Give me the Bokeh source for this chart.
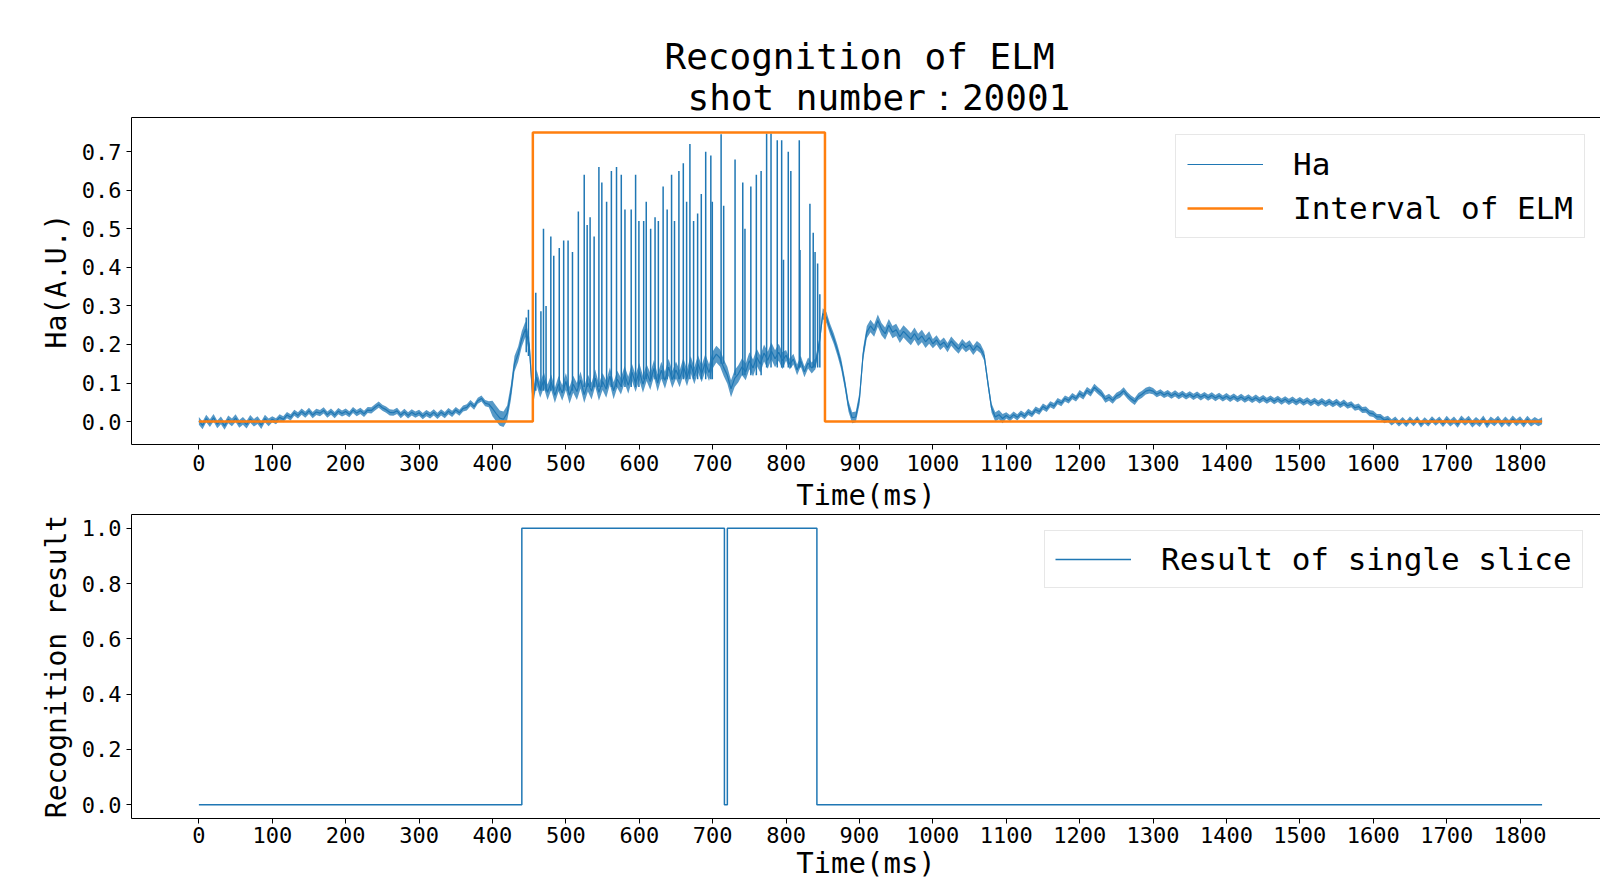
import numpy as np
from bokeh.plotting import figure
from bokeh.layouts import column
from bokeh.models import (Range1d, FixedTicker, PrintfTickFormatter, LinearAxis,
                          Title, Legend, LegendItem)
from bokeh.embed import file_html
from bokeh.resources import INLINE

FONT = "DejaVu Sans Mono"
BLUE = "#1f77b4"
ORANGE = "#ff7f0e"

# ---------------- data ----------------
title_line1 = "Recognition of ELM"
title_line2 = "shot number：20001"
x_ticks = [0, 100, 200, 300, 400, 500, 600, 700, 800, 900, 1000, 1100, 1200,
           1300, 1400, 1500, 1600, 1700, 1800]
ha_ticks = [0.0, 0.1, 0.2, 0.3, 0.4, 0.5, 0.6, 0.7]
res_ticks = [0.0, 0.2, 0.4, 0.6, 0.8, 1.0]

# Ha base trace, sampled every 5 ms from 0 to 1830 ms
ha_step_ms = 5
ha_base = [
    0.002, -0.010, 0.008, -0.004, 0.010, -0.007, 0.003, -0.011, 0.006, -0.002,
    0.009, -0.006, 0.002, -0.008, 0.007, -0.003, 0.004, -0.009, 0.008, -0.002,
    0.006, 0.001, 0.011, 0.006, 0.017, 0.011, 0.023, 0.016, 0.026, 0.018,
    0.028, 0.017, 0.025, 0.022, 0.029, 0.018, 0.026, 0.017, 0.027, 0.021,
    0.026, 0.019, 0.030, 0.022, 0.028, 0.020, 0.030, 0.029, 0.037, 0.044,
    0.036, 0.031, 0.024, 0.023, 0.028, 0.017, 0.025, 0.016, 0.024, 0.018,
    0.023, 0.014, 0.022, 0.016, 0.024, 0.015, 0.024, 0.017, 0.027, 0.020,
    0.030, 0.023, 0.034, 0.037, 0.048, 0.039, 0.054, 0.060, 0.048, 0.045,
    0.034, 0.021, 0.009, 0.006, 0.022, 0.075, 0.150, 0.175, 0.215, 0.240,
    0.200, 0.060, 0.115, 0.082, 0.108, 0.076, 0.102, 0.068, 0.098, 0.074,
    0.104, 0.068, 0.097, 0.078, 0.108, 0.070, 0.100, 0.079, 0.113, 0.076,
    0.104, 0.084, 0.118, 0.080, 0.110, 0.092, 0.122, 0.094, 0.128, 0.099,
    0.130, 0.097, 0.127, 0.104, 0.138, 0.100, 0.133, 0.107, 0.141, 0.109,
    0.134, 0.111, 0.143, 0.114, 0.148, 0.119, 0.150, 0.124, 0.153, 0.127,
    0.160, 0.175, 0.165, 0.140, 0.120, 0.085, 0.112, 0.124, 0.142, 0.129,
    0.158, 0.139, 0.167, 0.149, 0.178, 0.159, 0.183, 0.163, 0.180, 0.158,
    0.172, 0.149, 0.162, 0.134, 0.157, 0.129, 0.152, 0.139, 0.150, 0.200,
    0.280, 0.270, 0.240, 0.215, 0.185, 0.150, 0.100, 0.040, 0.010, 0.012,
    0.060, 0.175, 0.232, 0.248, 0.236, 0.262, 0.240, 0.228, 0.250, 0.232,
    0.238, 0.220, 0.234, 0.224, 0.214, 0.228, 0.212, 0.222, 0.207, 0.218,
    0.202, 0.212, 0.198, 0.206, 0.192, 0.209, 0.198, 0.188, 0.202, 0.192,
    0.199, 0.185, 0.197, 0.189, 0.170, 0.100, 0.035, 0.012, 0.018, 0.008,
    0.016, 0.009, 0.018, 0.011, 0.021, 0.014, 0.025, 0.019, 0.031, 0.026,
    0.039, 0.033, 0.045, 0.040, 0.053, 0.048, 0.060, 0.055, 0.066, 0.060,
    0.073, 0.066, 0.081, 0.074, 0.089, 0.080, 0.072, 0.058, 0.063, 0.055,
    0.066, 0.071, 0.080, 0.068, 0.059, 0.052, 0.065, 0.071, 0.079, 0.082,
    0.079, 0.071, 0.076, 0.069, 0.074, 0.067, 0.073, 0.066, 0.072, 0.065,
    0.071, 0.064, 0.070, 0.063, 0.069, 0.062, 0.068, 0.061, 0.067, 0.060,
    0.066, 0.059, 0.065, 0.058, 0.064, 0.057, 0.063, 0.056, 0.062, 0.055,
    0.061, 0.054, 0.060, 0.053, 0.059, 0.052, 0.058, 0.051, 0.057, 0.050,
    0.056, 0.049, 0.055, 0.048, 0.054, 0.047, 0.053, 0.046, 0.052, 0.045,
    0.051, 0.043, 0.049, 0.041, 0.045, 0.036, 0.039, 0.030, 0.031, 0.022,
    0.020, 0.012, 0.012, 0.004, 0.007, -0.002, 0.005, -0.005, 0.004, -0.006,
    0.005, -0.004, 0.006, -0.007, 0.003, -0.005, 0.006, -0.003, 0.005, -0.006,
    0.006, -0.004, 0.004, -0.007, 0.007, -0.002, 0.006, -0.006, 0.003, -0.005,
    0.007, -0.008, 0.004, -0.003, 0.006, -0.006, 0.004, -0.005, 0.007, -0.003,
    0.005, -0.006, 0.006, -0.004, 0.003, -0.003, 0.002,
]
# half-width of the noise band of the Ha trace, per 100 ms (0-100, 100-200, ...)
ha_noise = [0.010, 0.008, 0.008, 0.008, 0.020, 0.022, 0.022, 0.022, 0.014,
            0.016, 0.012, 0.008, 0.009, 0.008, 0.008, 0.008, 0.008, 0.009,
            0.009]

# ELM spikes on the Ha trace: time (ms), peak, foot
spike_t = [446, 449, 459, 466, 469.5, 473, 479.5, 483.5, 491, 497, 503, 509,
           517, 525, 529, 533, 538.5, 545, 549, 555.5, 562, 569, 575.5, 580.5,
           589, 595, 599.5, 606, 609.5, 615.5, 621.5, 626, 632.5, 638, 644,
           648, 654, 660, 664.5, 669, 674, 679.5, 684.5, 690.5, 697.5, 699.5,
           711.5, 715, 730.5, 741, 744, 752, 759.5, 766, 773.5, 779.5, 788,
           794, 796.5, 803, 806.5, 818, 819, 832.5, 837, 839.5, 843, 846]
spike_peak = [0.27, 0.29, 0.334, 0.286, 0.50, 0.30, 0.48, 0.43, 0.45, 0.47,
              0.47, 0.44, 0.545, 0.64, 0.51, 0.53, 0.48, 0.66, 0.62, 0.57,
              0.65, 0.66, 0.64, 0.55, 0.55, 0.64, 0.52, 0.52, 0.57, 0.50,
              0.53, 0.52, 0.61, 0.55, 0.64, 0.52, 0.65, 0.67, 0.57, 0.72,
              0.52, 0.54, 0.59, 0.70, 0.69, 0.57, 0.745, 0.56, 0.68, 0.62,
              0.50, 0.61, 0.64, 0.65, 0.747, 0.747, 0.73, 0.73, 0.42, 0.70,
              0.65, 0.73, 0.445, 0.565, 0.49, 0.44, 0.41, 0.33]
spike_foot = [0.18, 0.17] + [0.08] * 10 + [0.09] * 15 + [0.11] * 19 + \
             [0.15] * 2 + [0.12] * 6 + [0.14] * 14

# Labelled ELM interval (step)
elm_t = [0, 455, 455, 853, 853, 1830]
elm_v = [0.0, 0.0, 0.75, 0.75, 0.0, 0.0]

# Recognition result of single slice (step)
res_t = [0, 440, 440, 716, 716, 720, 720, 842, 842, 1830]
res_v = [0, 0, 1, 1, 0, 0, 1, 1, 0, 0]

ha_t = np.arange(len(ha_base)) * ha_step_ms
ha_arr = np.array(ha_base)
noise_per_sample = np.repeat(ha_noise, 100 // ha_step_ms)[:len(ha_base)]
ha_lo = ha_arr - noise_per_sample
ha_hi = ha_arr + noise_per_sample


def style_axis(ax, label_size="28px"):
    ax.axis_line_color = "black"
    ax.axis_line_width = 1
    ax.major_tick_line_color = "black"
    ax.major_tick_out = 5
    ax.major_tick_in = 0
    ax.minor_tick_line_color = None
    ax.major_label_text_font = FONT
    ax.major_label_text_font_size = "22px"
    ax.major_label_text_color = "black"
    ax.major_label_standoff = 5
    ax.axis_label_text_font = FONT
    ax.axis_label_text_font_size = label_size
    ax.axis_label_text_font_style = "normal"
    ax.axis_label_text_color = "black"
    ax.axis_label_standoff = 6


def spine_top(p):
    ax = LinearAxis(ticker=FixedTicker(ticks=[]), axis_line_color="black",
                    major_tick_line_color=None, minor_tick_line_color=None,
                    major_label_text_font_size="0px")
    p.add_layout(ax, "above")


x_range = Range1d(-91.8, 1909.6)

# ---------------- top panel ----------------
p1 = figure(width=1600, height=514, x_range=x_range,
            y_range=Range1d(-0.0594, 0.7887), output_backend="svg",
            toolbar_location=None, title=None,
            min_border_left=131, min_border_right=0, min_border_top=117,
            min_border_bottom=66)
p1.outline_line_color = None
p1.xgrid.grid_line_color = None
p1.ygrid.grid_line_color = None

p1.varea(x=ha_t, y1=ha_lo, y2=ha_hi, fill_color=BLUE, fill_alpha=0.75)
ha_line = p1.line(ha_t, ha_base, line_color=BLUE, line_width=1.2)
p1.segment(x0=spike_t, y0=spike_foot, x1=spike_t, y1=spike_peak,
           line_color=BLUE, line_width=1.5)
elm_line = p1.line(elm_t, elm_v, line_color=ORANGE, line_width=2.5)

p1.xaxis.ticker = FixedTicker(ticks=x_ticks)
p1.yaxis.ticker = FixedTicker(ticks=ha_ticks)
p1.yaxis.formatter = PrintfTickFormatter(format="%.1f")
p1.xaxis.axis_label = "Time(ms)"
p1.yaxis.axis_label = "Ha(A.U.)"
style_axis(p1.xaxis[0], "29px")
style_axis(p1.yaxis[0], "28px")
p1.xaxis.axis_label_standoff = 4
spine_top(p1)

p1.add_layout(Title(text=title_line2, align="left", offset=556,
                    text_font=FONT, text_font_size="36px",
                    text_font_style="normal", text_color="black",
                    standoff=0), "above")
p1.add_layout(Title(text=title_line1, align="left", offset=533,
                    text_font=FONT, text_font_size="36px",
                    text_font_style="normal", text_color="black",
                    standoff=-4), "above")

leg1 = Legend(items=[LegendItem(label="Ha", renderers=[ha_line]),
                     LegendItem(label="Interval of ELM", renderers=[elm_line])],
              location=(1044, 206), label_text_font=FONT,
              label_text_font_size="31px", label_text_color="black",
              glyph_width=76, glyph_height=36,
              label_height=36, label_standoff=30, spacing=8, padding=11,
              border_line_color="#d0d0d0", border_line_width=1,
              background_fill_color="white", background_fill_alpha=0.8)
p1.add_layout(leg1)

# ---------------- bottom panel ----------------
p2 = figure(width=1600, height=368, x_range=x_range,
            y_range=Range1d(-0.05, 1.05), output_backend="svg",
            toolbar_location=None, title=None,
            min_border_left=131, min_border_right=0, min_border_top=0,
            min_border_bottom=50)
p2.outline_line_color = None
p2.xgrid.grid_line_color = None
p2.ygrid.grid_line_color = None

res_line = p2.line(res_t, res_v, line_color=BLUE, line_width=1.5)
p2.xaxis.ticker = FixedTicker(ticks=x_ticks)
p2.yaxis.ticker = FixedTicker(ticks=res_ticks)
p2.yaxis.formatter = PrintfTickFormatter(format="%.1f")
p2.xaxis.axis_label = "Time(ms)"
p2.yaxis.axis_label = "Recognition result"
style_axis(p2.xaxis[0], "29px")
style_axis(p2.yaxis[0], "28px")
p2.xaxis.axis_label_standoff = 0
p2.xaxis.major_label_standoff = 3
spine_top(p2)

leg2 = Legend(items=[LegendItem(label="Result of single slice",
                                renderers=[res_line])],
              location=(913, 230), label_text_font=FONT,
              label_text_font_size="31px", label_text_color="black",
              glyph_width=76, glyph_height=36,
              label_height=36, label_standoff=30, spacing=8, padding=10,
              border_line_color="#d0d0d0", border_line_width=1,
              background_fill_color="white", background_fill_alpha=0.8)
p2.add_layout(leg2)

layout = column(p1, p2, spacing=0)
open("out.html", "w").write(file_html(layout, INLINE))
